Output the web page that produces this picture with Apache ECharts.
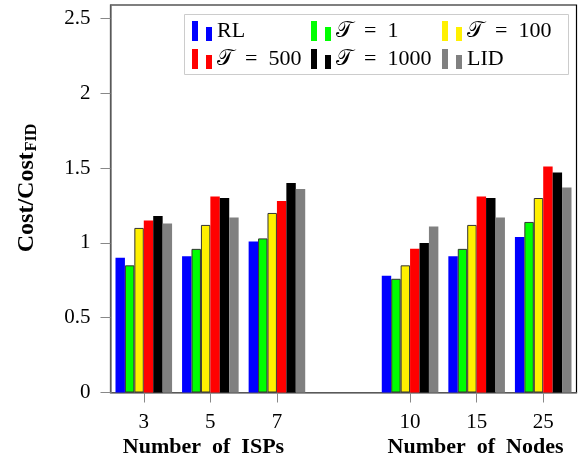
<!DOCTYPE html>
<html>
<head>
<meta charset="utf-8">
<script src="https://cdn.jsdelivr.net/npm/echarts@6/dist/echarts.min.js"></script>
<style>html,body{margin:0;padding:0;background:#fff}#c{width:578px;height:466px}</style>
</head>
<body>
<div id="c"></div>
<script>
const categories = ['3', '5', '7', '', '10', '15', '25'];
const seriesNames = ['RL', '𝒯\u2002=\u20021', '𝒯\u2002=\u2002100', '𝒯\u2002=\u2002500', '𝒯\u2002=\u20021000', 'LID'];
const rl    = [0.90, 0.91, 1.01, '-', 0.78, 0.91, 1.04];
const t1    = [0.85, 0.96, 1.03, '-', 0.76, 0.96, 1.14];
const t100  = [1.10, 1.12, 1.20, '-', 0.85, 1.12, 1.30];
const t500  = [1.15, 1.31, 1.28, '-', 0.96, 1.31, 1.51];
const t1000 = [1.18, 1.30, 1.40, '-', 1.00, 1.30, 1.47];
const lid   = [1.13, 1.17, 1.36, '-', 1.11, 1.17, 1.37];
const yTicks = [0, 0.5, 1, 1.5, 2, 2.5];
const groupTitles = ['Number  of  ISPs', 'Number  of  Nodes'];
const yTitle = '{a|Cost/Cost}{b|FID}';

const seriesData = [rl, t1, t100, t500, t1000, lid];
const colors = ['#0000ff', '#00ff00', '#fff000', '#ff0000', '#000000', '#808080'];
const bordered = [false, true, true, false, false, false];
const FONT = '"Liberation Serif", "DejaVu Serif", serif';
const icon = 'path://M0,0H6V20H0Z M14,6H20V20H14Z';

const chart = echarts.init(document.getElementById('c'), null, {renderer: 'canvas'});

function legendCol(names, left) {
  return {
    orient: 'vertical', left: left, top: 20, padding: 0, itemGap: 6,
    itemWidth: 20, itemHeight: 20, icon: icon,
    itemStyle: {borderWidth: 0},
    data: names, selectedMode: false,
    textStyle: {fontFamily: FONT, fontSize: 22, color: '#000', padding: [0,0,0,0]}
  };
}

chart.setOption({
  animation: false,
  backgroundColor: '#fff',
  color: colors,
  grid: {left: 110.5, right: 1.5, top: 5, bottom: 73.5, show: true, borderColor: '#000', borderWidth: 1.2},
  legend: [
    legendCol([seriesNames[0], seriesNames[3]], 192),
    legendCol([seriesNames[1], seriesNames[4]], 311),
    legendCol([seriesNames[2], seriesNames[5]], 442)
  ],
  graphic: [
    {type: 'rect', left: 184, top: 14, shape: {width: 384, height: 60},
     style: {fill: 'rgba(0,0,0,0)', stroke: '#cccccc', lineWidth: 1}, z: 10},
    {type: 'text', x: 203.5, y: 447, style: {text: groupTitles[0], font: 'bold 22px ' + FONT, fill: '#000', align: 'center', verticalAlign: 'middle'}},
    {type: 'text', x: 475.5, y: 447, style: {text: groupTitles[1], font: 'bold 22px ' + FONT, fill: '#000', align: 'center', verticalAlign: 'middle'}},
    {type: 'text', x: 27, y: 188, rotation: Math.PI / 2,
     style: {text: yTitle, align: 'center', verticalAlign: 'middle',
       rich: {
         a: {fontFamily: FONT, fontWeight: 'bold', fontSize: 24, fill: '#000'},
         b: {fontFamily: FONT, fontWeight: 'bold', fontSize: 16, fill: '#000', padding: [10,0,0,1]}
       }}}
  ],
  xAxis: {
    type: 'category', data: categories,
    axisLine: {show: true, lineStyle: {color: '#777', width: 1.5}},
    axisTick: {show: true, alignWithLabel: true, length: 10, lineStyle: {color: '#888', width: 1},
      interval: function (i, v) { return v !== ''; }},
    axisLabel: {fontFamily: FONT, fontSize: 21, color: '#000', margin: 19, interval: 0}
  },
  yAxis: {
    type: 'value', min: 0, max: 2.59, interval: 0.5,
    splitLine: {show: false},
    axisLine: {show: true, lineStyle: {color: '#777', width: 1.5}},
    axisTick: {show: true, length: 10, lineStyle: {color: '#888', width: 1}, customValues: yTicks},
    axisLabel: {fontFamily: FONT, fontSize: 21, color: '#000', margin: 20, customValues: yTicks,
      formatter: function (v) { return String(v); }}
  },
  series: seriesData.map(function (d, i) {
    return {
      name: seriesNames[i], type: 'bar', data: d,
      barGap: '0%', barCategoryGap: '15%',
      itemStyle: bordered[i] ? {color: colors[i], borderColor: '#333', borderWidth: 1} : {color: colors[i]}
    };
  })
});
</script>
</body>
</html>
